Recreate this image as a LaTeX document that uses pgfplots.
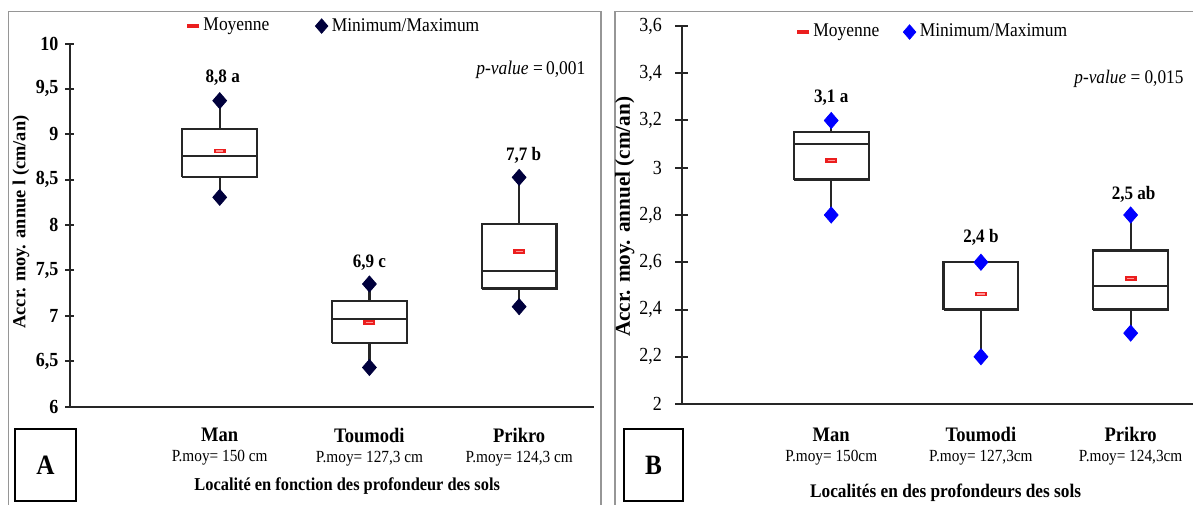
\documentclass[border=0pt]{standalone}
\usepackage{fontspec}
\setmainfont{Liberation Serif}[FakeStretch=0.9]
\newfontfamily\plainserif{Liberation Serif}
\usepackage{pgfplots}
\pgfplotsset{compat=1.18}
\definecolor{navy}{RGB}{0,0,60}
\definecolor{mblue}{RGB}{0,0,255}
\definecolor{mred}{RGB}{235,30,30}
\definecolor{mpink}{RGB}{255,150,150}
\definecolor{framegray}{RGB}{150,150,150}
\pgfplotsset{
  panel/.style={
    scale only axis, width=262pt, xmin=0, xmax=3.5,
    axis x line=bottom, axis y line=left,
    axis line style={-, line width=1pt, black!85},
    xtick={1,2,3},
    x tick style={draw=none},
    y tick style={line width=1pt, black!85},
    tick align=center,
    xticklabel style={align=center, font=\fontsize{10.3}{10}\selectfont, yshift=-5pt},
    clip=false,
    legend style={draw=none, fill=none, legend columns=2, anchor=west,
      font=\fontsize{9.7}{12}\selectfont},
    legend cell align=left,
  },
  boxst/.style={draw=black!85, fill=white, line width=1.1pt, line join=miter, forget plot},
  whisk/.style={draw=black!85, line width=1.1pt, forget plot},
  meanst/.style={only marks, mark=-, mark size=3pt, mark options={draw=mred, line width=2.4pt}, forget plot},
  meanin/.style={only marks, mark=-, mark size=1.8pt, mark options={draw=mpink, line width=0.6pt}, forget plot},
  dmd/.style={only marks, mark=diamond*, mark size=4pt, mark options={xscale=1.15}, forget plot},
}
\newcommand{\pmoy}[1]{\\\fontsize{8.5}{10}\selectfont P.moy= #1}
\begin{document}
\begin{tikzpicture}
% frames
\draw[framegray, line width=0.8pt] (4.25pt,-3pt) rectangle (300.5pt,246.25pt);
\draw[framegray, line width=0.8pt] (307.5pt,-3pt) rectangle (610pt,246.25pt);
\draw[black, line width=0.8pt] (7.5pt,1.5pt) rectangle (38pt,37.5pt);
\node[font=\fontsize{14}{16}\bfseries\selectfont] at (22.75pt,19.5pt) {A};
\draw[black, line width=0.8pt] (312pt,1.5pt) rectangle (341.5pt,37.5pt);
\node[font=\fontsize{14}{16}\bfseries\selectfont] at (326.75pt,19.5pt) {B};

% ---------------- Panel A
\begin{axis}[panel, at={(35pt,48.75pt)}, anchor=south west, height=181.5pt,
  ymin=6, ymax=10, ytick={6,6.5,7,7.5,8,8.5,9,9.5,10},
  major tick length=4.5pt,
  yticklabel style={font=\fontsize{10}{12}\bfseries\selectfont,
    /pgf/number format/.cd, use comma, assume math mode=true},
  xticklabels={{\textbf{Man}\pmoy{150 cm}},{\textbf{Toumodi}\pmoy{127,3 cm}},{\textbf{Prikro}\pmoy{124,3 cm}}},
  xlabel={Localité en fonction des profondeur des sols},
  every axis x label/.style={at={(axis description cs:0.529,-0.218)}, anchor=center,
    font=\fontsize{9.1}{11}\bfseries\selectfont},
  ylabel={Accr. moy. annue l (cm/an)},
  every axis y label/.style={at={(axis description cs:-0.0935,0.508)}, rotate=90, anchor=center,
    font=\fontsize{9.2}{11}\bfseries\plainserif},
  legend style={at={(axis description cs:0.212,1.048)},
    /tikz/every even column/.append style={column sep=21pt}},
]
% whiskers (min/max)
\addplot[whisk] coordinates {(1,8.305) (1,9.37)};
\addplot[whisk] coordinates {(2,6.43) (2,7.35)};
\addplot[whisk] coordinates {(3,7.10) (3,8.525)};
% boxes (Q1, Q3)
\addplot[boxst] coordinates {(0.75,8.525) (1.25,8.525) (1.25,9.06) (0.75,9.06) (0.75,8.525)};
\addplot[boxst] coordinates {(1.75,6.70) (2.25,6.70) (2.25,7.165) (1.75,7.165) (1.75,6.70)};
\addplot[boxst] coordinates {(2.75,7.30) (3.25,7.30) (3.25,8.01) (2.75,8.01) (2.75,7.30)};
% medians
\addplot[whisk] coordinates {(0.75,8.76) (1.25,8.76)};
\addplot[whisk] coordinates {(1.75,6.96) (2.25,6.96)};
\addplot[whisk] coordinates {(2.75,7.49) (3.25,7.49)};
% means
\addplot[meanst] coordinates {(1,8.815) (2,6.925) (3,7.705)};
\addplot[meanin] coordinates {(1,8.815) (2,6.925) (3,7.705)};
% min / max
\addplot[dmd, color=navy]
  coordinates {(1,8.305) (1,9.37) (2,6.43) (2,7.35) (3,7.10) (3,8.525)};
\addlegendimage{legend image code/.code={\draw[mred, line width=2.4pt] plot[only marks, mark=-, mark size=3pt] coordinates {(0pt,0pt)};}}
\addlegendentry{Moyenne}
\addlegendimage{legend image code/.code={\draw[navy, fill=navy] plot[only marks, mark=diamond*, mark size=3.6pt, mark options={xscale=1.15}] coordinates {(0pt,0pt)};}}
\addlegendentry{Minimum/Maximum}
\node[font=\fontsize{9.5}{11}\bfseries\selectfont] at (axis cs:1.02,9.62) {8,8 a};
\node[font=\fontsize{9.5}{11}\bfseries\selectfont] at (axis cs:2.0,7.58) {6,9 c};
\node[font=\fontsize{9.5}{11}\bfseries\selectfont] at (axis cs:3.03,8.765) {7,7 b};
\node[anchor=east, font=\fontsize{9.7}{11}\selectfont] at (axis cs:3.49,9.71) {\textit{p-value} =\,0,001};
\end{axis}

% ---------------- Panel B
\begin{axis}[panel, at={(340.75pt,50pt)}, anchor=south west, height=189pt,
  ymin=2, ymax=3.6, ytick={2,2.2,2.4,2.6,2.8,3,3.2,3.4,3.6},
  major tick length=6.5pt,
  yticklabel style={font=\fontsize{10}{12}\selectfont, xshift=-3pt,
    /pgf/number format/.cd, use comma, assume math mode=true},
  xticklabels={{\textbf{Man}\pmoy{150cm}},{\textbf{Toumodi}\pmoy{127,3cm}},{\textbf{Prikro}\pmoy{124,3cm}}},
  xlabel={Localités en des profondeurs des sols},
  every axis x label/.style={at={(axis description cs:0.504,-0.235)}, anchor=center,
    font=\fontsize{9.6}{11}\bfseries\selectfont},
  ylabel={Accr. moy. annuel (cm/an)},
  every axis y label/.style={at={(axis description cs:-0.108,0.495)}, rotate=90, anchor=center,
    font=\fontsize{10.6}{12}\bfseries\plainserif},
  legend style={at={(axis description cs:0.209,0.984)},
    /tikz/every even column/.append style={column sep=10pt}},
]
\addplot[whisk] coordinates {(1,2.80) (1,3.20)};
\addplot[whisk] coordinates {(2,2.20) (2,2.60)};
\addplot[whisk] coordinates {(3,2.30) (3,2.80)};
\addplot[boxst] coordinates {(0.75,2.95) (1.25,2.95) (1.25,3.15) (0.75,3.15) (0.75,2.95)};
\addplot[boxst] coordinates {(1.75,2.40) (2.25,2.40) (2.25,2.60) (1.75,2.60) (1.75,2.40)};
\addplot[boxst] coordinates {(2.75,2.40) (3.25,2.40) (3.25,2.65) (2.75,2.65) (2.75,2.40)};
\addplot[whisk] coordinates {(0.75,3.10) (1.25,3.10)};
\addplot[whisk] coordinates {(1.75,2.60) (2.25,2.60)};
\addplot[whisk] coordinates {(2.75,2.50) (3.25,2.50)};
\addplot[meanst] coordinates {(1,3.03) (2,2.466) (3,2.532)};
\addplot[meanin] coordinates {(1,3.03) (2,2.466) (3,2.532)};
\addplot[dmd, color=mblue]
  coordinates {(1,2.80) (1,3.20) (2,2.20) (2,2.60) (3,2.30) (3,2.80)};
\addlegendimage{legend image code/.code={\draw[mred, line width=2.4pt] plot[only marks, mark=-, mark size=3pt] coordinates {(0pt,0pt)};}}
\addlegendentry{Moyenne}
\addlegendimage{legend image code/.code={\draw[mblue, fill=mblue] plot[only marks, mark=diamond*, mark size=3.6pt, mark options={xscale=1.15}] coordinates {(0pt,0pt)};}}
\addlegendentry{Minimum/Maximum}
\node[font=\fontsize{9.5}{11}\bfseries\selectfont] at (axis cs:1.0,3.297) {3,1 a};
\node[font=\fontsize{9.5}{11}\bfseries\selectfont] at (axis cs:2.0,2.704) {2,4 b};
\node[font=\fontsize{9.5}{11}\bfseries\selectfont] at (axis cs:3.02,2.888) {2,5 ab};
\node[anchor=east, font=\fontsize{9.6}{11}\selectfont] at (axis cs:3.40,3.378) {\textit{p-value} = 0,015};
\end{axis}
\pgfresetboundingbox
\useasboundingbox (0,0) rectangle (596.5pt,252pt);
\end{tikzpicture}
\end{document}
